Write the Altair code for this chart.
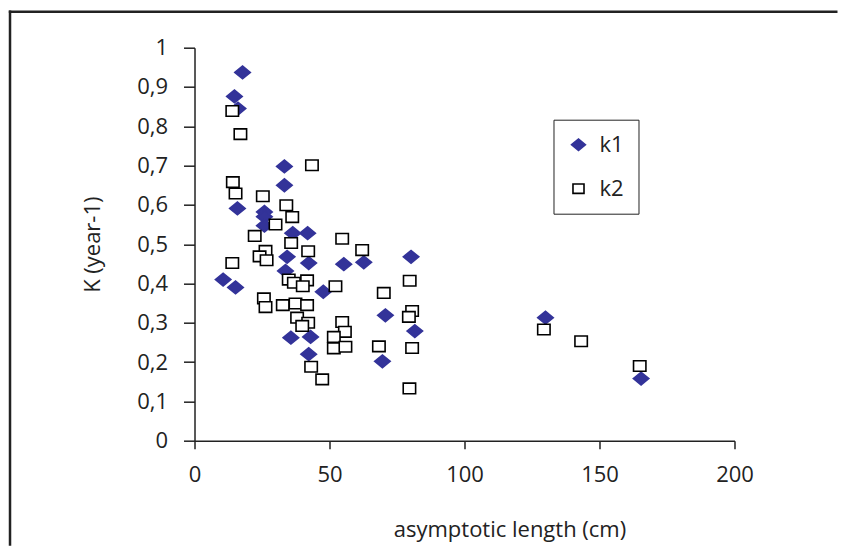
import altair as alt
import pandas as pd

# k1 series (filled diamonds)
k1_x = [17.8, 14.8, 16.1, 33.3, 33.3, 15.9, 25.9, 25.9, 25.9, 36.4, 41.9, 34.3, 42.3, 55.3,
        62.7, 80.2, 33.7, 10.6, 15.2, 47.7, 70.7, 81.6, 35.7, 43.0, 42.3, 69.6, 130.0, 165.4]
k1_y = [0.937, 0.876, 0.845, 0.698, 0.650, 0.591, 0.582, 0.570, 0.547, 0.528, 0.528, 0.468,
        0.452, 0.449, 0.454, 0.468, 0.432, 0.410, 0.390, 0.379, 0.319, 0.279, 0.262, 0.264,
        0.220, 0.202, 0.313, 0.158]

# k2 series (open squares)
k2_x = [14.0, 17.0, 43.5, 14.2, 15.2, 25.3, 34.0, 36.2, 30.0, 22.3, 54.7, 35.8, 62.1, 42.1,
        26.3, 24.1, 26.7, 14.0, 34.9, 36.8, 41.7, 40.1, 52.2, 70.1, 79.7, 25.7, 26.3, 32.7,
        37.4, 41.7, 80.6, 79.4, 38.0, 42.1, 39.9, 54.7, 55.7, 51.6, 51.6, 55.9, 68.3, 80.6,
        43.2, 47.3, 79.6, 129.4, 143.2, 164.9]
k2_y = [0.839, 0.780, 0.701, 0.658, 0.629, 0.622, 0.599, 0.569, 0.550, 0.521, 0.514, 0.503,
        0.485, 0.482, 0.483, 0.469, 0.459, 0.452, 0.410, 0.402, 0.408, 0.393, 0.393, 0.376,
        0.407, 0.362, 0.340, 0.345, 0.349, 0.345, 0.330, 0.315, 0.313, 0.300, 0.292, 0.302,
        0.277, 0.264, 0.235, 0.239, 0.240, 0.236, 0.188, 0.156, 0.133, 0.283, 0.253, 0.190]

series_names = ["k1", "k2"]
x_ticks = [0, 50, 100, 150, 200]
y_ticks = [0, 0.1, 0.2, 0.3, 0.4, 0.5, 0.6, 0.7, 0.8, 0.9, 1]

df = pd.concat([
    pd.DataFrame({"L": k1_x, "K": k1_y, "series": "k1"}),
    pd.DataFrame({"L": k2_x, "K": k2_y, "series": "k2"}),
], ignore_index=True)

FONT = "Open Sans"
INK = "#222222"
DIAMOND = "M-1,0L0,-0.82L1,0L0,0.82Z"
SQUARE = "M-0.8,-0.68H0.8V0.68H-0.8Z"

W, H = 540, 393

points = alt.Chart(df).mark_point(opacity=1, strokeWidth=1.6, size=240).encode(
    x=alt.X("L:Q",
            scale=alt.Scale(domain=[0, 200], nice=False, zero=True),
            axis=alt.Axis(values=x_ticks, title="asymptotic length (cm)",
                          titleX=315, titleY=89, titleBaseline="middle",
                          titleAlign="center", tickSize=8, labelPadding=16,
                          labelFlush=False)),
    y=alt.Y("K:Q",
            scale=alt.Scale(domain=[0, 1], nice=False),
            axis=alt.Axis(values=y_ticks, title="K (year-1)",
                          labelExpr="replace(format(datum.value, '.1~f'), '.', ',')",
                          titleX=-102, titleY=H / 2, titleBaseline="middle",
                          titleAlign="center", titleAngle=270,
                          tickSize=11, labelPadding=16, labelFlush=False)),
    shape=alt.Shape("series:N", scale=alt.Scale(domain=series_names, range=[DIAMOND, SQUARE]),
                    legend=alt.Legend(title=None, orient="none", legendX=359, legendY=72,
                                      strokeColor=INK, fillColor="white", padding=14,
                                      labelFontSize=22, labelFont=FONT, labelColor=INK,
                                      rowPadding=22, symbolSize=190, symbolStrokeWidth=1.6,
                                      labelOffset=10, symbolOpacity=1)),
    fill=alt.Fill("series:N", scale=alt.Scale(domain=series_names, range=["#333399", "white"])),
    stroke=alt.Stroke("series:N", scale=alt.Scale(domain=series_names, range=["#333399", "black"])),
    order=alt.Order("series:N"),
)

frame_src = pd.DataFrame({"a": [0]})
frame_top = alt.Chart(frame_src).mark_rule(stroke=INK, strokeWidth=2.5).encode(
    x=alt.value(-185.7), x2=alt.value(W + 103), y=alt.value(-36),
)
frame_left = alt.Chart(frame_src).mark_rule(stroke=INK, strokeWidth=2.5).encode(
    x=alt.value(-184.5), y=alt.value(-37.2), y2=alt.value(H + 105),
)

chart = alt.layer(frame_top, frame_left, points).properties(
    width=W, height=H,
    autosize=alt.AutoSizeParams(type="none"),
    padding={"left": 186.5, "top": 39.7, "right": 103, "bottom": 105},
).configure_view(stroke=None).configure_axis(
    grid=False, domainColor=INK, tickColor=INK, domainWidth=1.5, tickWidth=1.5,
    labelColor=INK, titleColor=INK, labelFont=FONT, titleFont=FONT,
    labelFontSize=22, titleFontSize=22, titleFontWeight="normal",
)

chart.save("out.html", embed_options={"renderer": "svg", "actions": False})
